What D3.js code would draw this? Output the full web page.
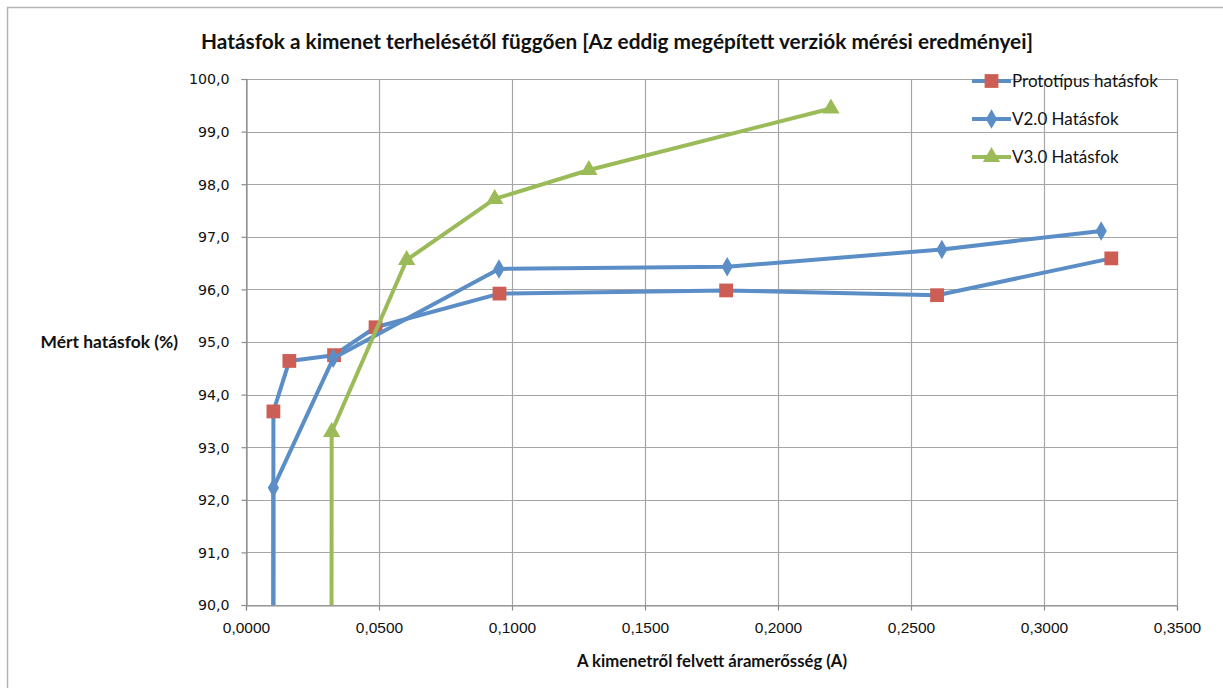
<!DOCTYPE html>
<html><head><meta charset="utf-8">
<script src="https://cdn.jsdelivr.net/npm/d3@7"></script>
<style>body{margin:0;background:#fff}svg{display:block}</style>
</head><body>
<svg id="c" width="1223" height="688"></svg>
<script>
const title = "Hatásfok a kimenet terhelésétől függően [Az eddig megépített verziók mérési eredményei]";
const yTitle = "Mért hatásfok (%)";
const xTitle = "A kimenetről felvett áramerősség (A)";
const seriesNames = ["Prototípus hatásfok", "V2.0 Hatásfok", "V3.0 Hatásfok"];
const protoX = [0.0097, 0.0103, 0.0163, 0.0331, 0.0487, 0.0953, 0.1805, 0.2598, 0.3253];
const protoY = [0, 93.68, 94.64, 94.75, 95.28, 95.92, 95.98, 95.89, 96.59];
const v2X = [0.0097, 0.0103, 0.0328, 0.0951, 0.1809, 0.2616, 0.3215];
const v2Y = [0, 92.23, 94.69, 96.39, 96.43, 96.76, 97.11];
const v3X = [0.0309, 0.0322, 0.0604, 0.0935, 0.1289, 0.2199];
const v3Y = [0, 93.29, 96.56, 97.72, 98.27, 99.44];
const xTicks = [0, 0.05, 0.1, 0.15, 0.2, 0.25, 0.3, 0.35];
const yTicks = [90, 91, 92, 93, 94, 95, 96, 97, 98, 99, 100];

const svg = d3.select("#c");
const W = 1223, H = 688;
const m = {l: 246, r: 1177, t: 79, b: 605};
const x = d3.scaleLinear().domain([0, 0.35]).range([m.l, m.r]);
const y = d3.scaleLinear().domain([90, 100]).range([m.b, m.t]);
const fmtX = v => d3.format(".4f")(v).replace(".", ",");
const fmtY = v => d3.format(".1f")(v).replace(".", ",");
const font = "Lato, 'Open Sans', sans-serif";

// outer frame
svg.append("path").attr("d", `M7.5,${H+5} V7.5 H${W+5}`).attr("fill", "none").attr("stroke", "#b4b4b4").attr("stroke-width", 1.5);

// gridlines
svg.append("g").selectAll("line").data(yTicks).join("line")
  .attr("x1", m.l).attr("x2", m.r).attr("y1", d => Math.round(y(d)) + 0.5).attr("y2", d => Math.round(y(d)) + 0.5)
  .attr("stroke", "#a6a6a6").attr("stroke-width", 1.2);
svg.append("g").selectAll("line").data(xTicks).join("line")
  .attr("y1", m.t).attr("y2", m.b).attr("x1", d => Math.round(x(d)) + 0.5).attr("x2", d => Math.round(x(d)) + 0.5)
  .attr("stroke", "#a6a6a6").attr("stroke-width", 1.2);

// axes
const xa = svg.append("g").attr("transform", `translate(0,${Math.round(y(90)) + 0.5})`)
  .call(d3.axisBottom(x).tickValues(xTicks).tickFormat(fmtX).tickSizeOuter(0).tickSize(5).tickPadding(11));
const ya = svg.append("g").attr("transform", `translate(${Math.round(x(0)) + 0.5},0)`)
  .call(d3.axisLeft(y).tickValues(yTicks).tickFormat(fmtY).tickSizeOuter(0).tickSize(5).tickPadding(12));
[xa, ya].forEach(a => {
  a.select(".domain").attr("stroke", "#8c8c8c").attr("stroke-width", 1.2);
  a.selectAll(".tick line").attr("stroke", "#8c8c8c").attr("stroke-width", 1.2);
  a.selectAll("text").attr("fill", "#111").attr("font-family", font).attr("font-size", 15);
});
xa.selectAll("text").attr("font-family", "'Liberation Sans Narrow', sans-serif").attr("font-size", 15.5);
ya.selectAll("text").attr("font-family", "'DejaVu Sans', Verdana, sans-serif").attr("font-size", 14.2).attr("dy", "0.35em");

// titles
svg.append("text").attr("x", 617).attr("y", 49).attr("text-anchor", "middle")
  .attr("font-family", font).attr("font-weight", "bold").attr("font-size", 20.8).attr("fill", "#111").text(title);
svg.append("text").attr("x", 178).attr("y", 348).attr("text-anchor", "end")
  .attr("font-family", font).attr("font-weight", "bold").attr("font-size", 17.4).attr("fill", "#111").text(yTitle);
svg.append("text").attr("x", 712).attr("y", 667).attr("text-anchor", "middle")
  .attr("font-family", font).attr("font-weight", "bold").attr("font-size", 16.7).attr("fill", "#111").text(xTitle);

// series
svg.append("clipPath").attr("id", "pc").append("rect")
  .attr("x", m.l).attr("y", 0).attr("width", m.r - m.l + 20).attr("height", m.b);
const series = [
  {name: seriesNames[0], xs: protoX, ys: protoY, line: "#5b8ec6", fill: "#cd5e55", shape: d3.symbolSquare, size: 190},
  {name: seriesNames[1], xs: v2X, ys: v2Y, line: "#5b8ec6", fill: "#5b8ec6", shape: d3.symbolDiamond, size: 110},
  {name: seriesNames[2], xs: v3X, ys: v3Y, line: "#9bbb59", fill: "#9bbb59", shape: d3.symbolTriangle, size: 130}
];
const lineGen = d3.line().x(d => x(d[0])).y(d => y(d[1]));
const plot = svg.append("g").attr("clip-path", "url(#pc)");
series.forEach(s => {
  const pts = s.xs.map((v, i) => [v, s.ys[i]]);
  plot.append("path").datum(pts).attr("d", lineGen).attr("fill", "none")
    .attr("stroke", s.line).attr("stroke-width", 4).attr("stroke-linejoin", "round");
  plot.append("g").selectAll("path").data(pts.filter(p => p[1] >= 90)).join("path")
    .attr("transform", p => `translate(${x(p[0])},${y(p[1])})`)
    .attr("d", d3.symbol().type(s.shape).size(s.size)).attr("fill", s.fill);
});

// legend
const lg = svg.append("g");
series.forEach((s, i) => {
  const ly = 81 + i * 38;
  lg.append("line").attr("x1", 972).attr("x2", 1011).attr("y1", ly).attr("y2", ly).attr("stroke", s.line).attr("stroke-width", 4);
  lg.append("path").attr("transform", `translate(991.5,${ly})`).attr("d", d3.symbol().type(s.shape).size(s.size)).attr("fill", s.fill);
  lg.append("text").attr("x", 1012).attr("y", ly + 6).attr("font-family", font).attr("font-size", 17).attr("fill", "#111").text(s.name);
});
</script>
</body></html>
